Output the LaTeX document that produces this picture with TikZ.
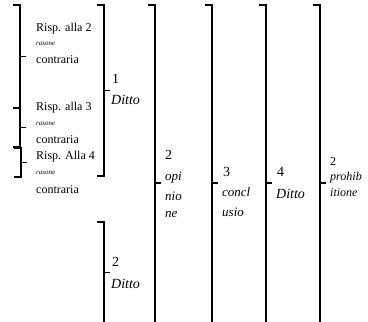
\documentclass[tikz,border=0pt]{standalone}
\usepackage{fontspec}
\setmainfont{Liberation Serif}

% a "]" bracket with its middle tick: x, top, bottom, name of tick end
\newcommand{\parentesi}[4]{%
    \draw[brk] (#1-7, #2) -- (#1, #2) -- (#1, #3) -- (#1-7, #3);
    \draw[brk] (#1, {(#2+#3)/2}) -- (#1+6, {(#2+#3)/2}) coordinate (#4);
}

\tikzset{
    brk/.style={line width=1.7pt, line cap=butt},
    small/.style={anchor=west, inner sep=0pt, font=\fontsize{12}{14}\selectfont},
    tiny/.style={anchor=west, inner sep=0pt, font=\fontsize{7}{8}\selectfont\itshape},
    big/.style={anchor=west, inner sep=0pt, font=\fontsize{14}{16}\selectfont},
}

\begin{document}
\begin{tikzpicture}[x=1pt, y=-1pt]
    \useasboundingbox (0, 0) rectangle (368, 322);
    \clip (0, 0) rectangle (368, 322);

    % reasons
    \parentesi{20}{5}{108}{r2}
    \parentesi{20}{108}{147}{r3}
    \parentesi{21}{148}{177}{r4}
    \node[small] (r2a) at (36, 29) {Risp. alla 2};
    \node[tiny]  (r2b) at (36, 44) {rasone};
    \node[small] (r2c) at (36, 60) {contraria};
    \node[small] (r3a) at (36, 108) {Risp. alla 3};
    \node[tiny]  (r3b) at (36, 124) {rasone};
    \node[small] (r3c) at (36, 140) {contraria};
    \node[small] (r4a) at (36, 157) {Risp. Alla 4};
    \node[tiny]  (r4b) at (36, 173) {rasone};
    \node[small] (r4c) at (36, 190) {contraria};

    % dittos
    \parentesi{104}{5}{176}{d1}
    \parentesi{104}{222}{323}{d2}
    \node[big] (d1n) at (112, 79) {1};
    \node[big] (d1t) at (111, 100) {\itshape Ditto};
    \node[big] (d2n) at (112, 262) {2};
    \node[big] (d2t) at (111, 284) {\itshape Ditto};

    % opinione
    \parentesi{155}{5}{361}{op}
    \node[big] (opn) at (165, 155) {2};
    \node[big] (op1) at (165, 178) {\fontsize{13}{15}\selectfont\itshape opi};
    \node[big] (op2) at (165, 196) {\fontsize{13}{15}\selectfont\itshape nio};
    \node[big] (op3) at (165, 214) {\fontsize{13}{15}\selectfont\itshape ne};

    % conclusio
    \parentesi{212}{5}{361}{cc}
    \node[big] (ccn) at (223, 172) {3};
    \node[big] (cc1) at (222, 192) {\fontsize{13}{15}\selectfont\itshape concl};
    \node[big] (cc2) at (222, 212) {\fontsize{13}{15}\selectfont\itshape usio};

    % ditto 4
    \parentesi{266}{5}{361}{d4}
    \node[big] (d4n) at (277, 172) {4};
    \node[big] (d4t) at (276, 194) {\itshape Ditto};

    % prohibitione
    \parentesi{320}{5}{361}{pr}
    \node[big] (prn) at (330, 162) {\fontsize{12}{14}\selectfont 2};
    \node[big] (pr1) at (330, 178) {\fontsize{12}{13}\selectfont\itshape prohib};
    \node[big] (pr2) at (330, 193) {\fontsize{12}{13}\selectfont\itshape itione};
\end{tikzpicture}
\end{document}
